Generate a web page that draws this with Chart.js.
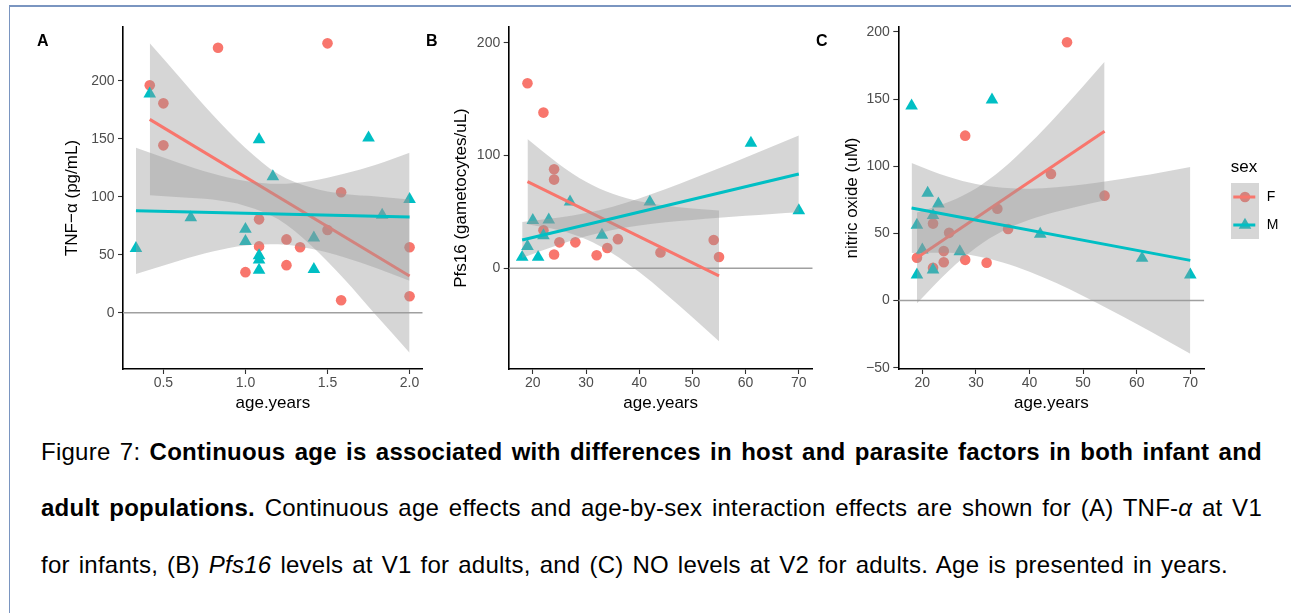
<!DOCTYPE html>
<html><head><meta charset="utf-8">
<script src="https://cdn.jsdelivr.net/npm/chart.js@4.4.1/dist/chart.umd.min.js"></script>
<style>
html,body{margin:0;padding:0;background:#fff;}
body{width:1291px;height:613px;position:relative;overflow:hidden;font-family:'Liberation Sans',Arial,sans-serif;}
.frame{position:absolute;left:9px;top:5px;width:1300px;height:620px;border-top:2px solid #7a95c0;border-left:1.2px solid #7a95c0;box-sizing:border-box;}
canvas{position:absolute;top:0;}
.lab{position:absolute;font:bold 16px 'Liberation Sans',Arial,sans-serif;color:#000;line-height:16px;}
.cap{position:absolute;left:41px;white-space:nowrap;font-size:24px;line-height:1;color:#000;font-family:'Liberation Sans',Arial,sans-serif;}
</style></head><body>
<div class="frame"></div>
<canvas id="cA" width="410" height="420" style="left:20px"></canvas>
<canvas id="cB" width="390" height="420" style="left:430px"></canvas>
<canvas id="cC" width="471" height="420" style="left:820px"></canvas>
<div class="lab" style="left:37px;top:33px">A</div>
<div class="lab" style="left:426px;top:33px">B</div>
<div class="lab" style="left:816px;top:33px">C</div>
<div class="cap" data-w="1221" style="top:439.7px">Figure 7: <b>Continuous age is associated with differences in host and parasite factors in both infant and</b></div>
<div class="cap" data-w="1221" style="top:496.4px"><b>adult populations.</b> Continuous age effects and age-by-sex interaction effects are shown for (A) TNF-<i>α</i> at V1</div>
<div class="cap" data-w="1187" style="top:552.7px">for infants, (B) <i>Pfs16</i> levels at V1 for adults, and (C) NO levels at V2 for adults. Age is presented in years.</div>
<script>
// ---------- Panel A: TNF-alpha vs age (infants) ----------
const A_F_age = [0.417, 0.833, 0.5, 0.5, 1.5, 1.083, 1.083, 1.0, 1.25, 1.25, 1.333, 1.5, 1.583, 1.583, 2.0, 2.0];
const A_F_val = [196, 228.4, 180.5, 144.3, 232.2, 80.5, 57.2, 35.0, 63.2, 41.0, 56.5, 71.3, 103.8, 10.8, 56.4, 14.2];
const A_M_age = [0.333, 0.417, 0.667, 1.0, 1.0, 1.083, 1.083, 1.083, 1.083, 1.167, 1.417, 1.417, 1.75, 1.833, 2.0];
const A_M_val = [55.5, 188.7, 82.0, 72.0, 61.6, 149.2, 49.3, 45.5, 36.8, 117.3, 64.5, 37.4, 150.7, 84.2, 97.7];
const A_F_fitAge = [0.417, 2.0];
const A_F_fit = [166.7, 31.6];
const A_M_fitAge = [0.333, 2.0];
const A_M_fit = [87.9, 82.5];
const A_F_bandAge = [0.417, 0.6, 0.8, 1.0, 1.2, 1.4, 1.6, 1.8, 2.0];
const A_F_bandHi = [232.2, 202.8, 170.7, 142.1, 119.5, 107.9, 102.4, 100.3, 97.6];
const A_F_bandLo = [101.2, 99.6, 97.5, 92.1, 80.5, 57.9, 29.2, -2.9, -34.4];
const A_M_bandAge = [0.333, 0.6, 0.8, 1.0, 1.2, 1.4, 1.6, 1.8, 2.0];
const A_M_bandHi = [142.2, 128.9, 120.0, 113.6, 111.1, 113.6, 119.7, 127.8, 137.9];
const A_M_bandLo = [33.3, 45.1, 52.8, 58.0, 59.1, 55.2, 47.9, 38.4, 27.5];
const A_xTicks = [0.5, 1.0, 1.5, 2.0];
const A_xTickLabels = ['0.5', '1.0', '1.5', '2.0'];
const A_yTicks = [0, 50, 100, 150, 200];
const A_yTickLabels = ['0', '50', '100', '150', '200'];

// ---------- Panel B: Pfs16 vs age (adults) ----------
const B_F_age = [19, 22, 24, 24, 22, 25, 28, 24, 32, 34, 36, 44, 54, 55];
const B_F_val = [164, 138, 87.7, 78.6, 33.7, 23, 23, 12.2, 11.5, 18, 25.8, 14, 25, 10];
const B_M_age = [18, 21, 19, 20, 23, 22, 27, 33, 42, 61, 70];
const B_M_val = [9.8, 9.8, 19.5, 42.5, 43, 29, 58.9, 29.5, 58.8, 111, 51.1];
const B_F_fitAge = [19, 55];
const B_F_fit = [76.8, -6.8];
const B_M_fitAge = [18, 70];
const B_M_fit = [25.1, 83.6];
const B_F_bandAge = [19, 25, 30, 35, 40, 45, 50, 55];
const B_F_bandHi = [114.6, 92.1, 76.8, 66.0, 59.4, 55.5, 53.0, 51.2];
const B_F_bandLo = [39.0, 33.7, 25.8, 13.2, -3.4, -22.7, -43.4, -64.8];
const B_M_bandAge = [18, 25, 30, 35, 40, 45, 50, 55, 60, 65, 70];
const B_M_bandHi = [41.1, 45.0, 48.9, 54.5, 61.9, 70.3, 79.4, 88.7, 98.3, 107.9, 117.6];
const B_M_bandLo = [9.1, 21.0, 28.3, 33.9, 37.9, 40.7, 42.8, 44.7, 46.5, 48.1, 49.6];
const B_xTicks = [20, 30, 40, 50, 60, 70];
const B_xTickLabels = ['20', '30', '40', '50', '60', '70'];
const B_yTicks = [0, 100, 200];
const B_yTickLabels = ['0', '100', '200'];

// ---------- Panel C: nitric oxide vs age (adults) ----------
const C_F_age = [19, 22, 22, 24, 24, 25, 28, 28, 32, 34, 36, 44, 47, 54];
const C_F_val = [31.8, 57.3, 24.4, 36.8, 28.5, 50.4, 122.8, 30.3, 28.1, 68.3, 53.3, 94.3, 192.3, 78.1];
const C_M_age = [18, 33, 21, 23, 22, 19, 20, 27, 19, 22, 42, 61, 70];
const C_M_val = [145, 149.5, 80, 72, 63.5, 56.2, 37.8, 36.5, 19.2, 22.8, 49.5, 31.5, 19.2];
const C_F_fitAge = [19, 54];
const C_F_fit = [31.8, 126.1];
const C_M_fitAge = [18, 70];
const C_M_fit = [68.9, 29.9];
const C_F_bandAge = [19, 25, 30, 35, 40, 45, 50, 54];
const C_F_bandHi = [65.6, 73.6, 83.5, 98.1, 116.7, 137.5, 159.6, 177.8];
const C_F_bandLo = [-2.0, 22.4, 39.3, 51.7, 60.1, 66.1, 71.0, 74.4];
const C_M_bandAge = [18, 25, 30, 35, 40, 45, 50, 55, 60, 65, 70];
const C_M_bandHi = [102.5, 91.9, 86.7, 84.0, 83.3, 84.4, 86.4, 89.2, 92.3, 95.8, 99.4];
const C_M_bandLo = [35.3, 35.5, 33.1, 28.4, 21.5, 13.0, 3.4, -6.9, -17.5, -28.5, -39.6];
const C_xTicks = [20, 30, 40, 50, 60, 70];
const C_xTickLabels = ['20', '30', '40', '50', '60', '70'];
const C_yTicks = [-50, 0, 50, 100, 150, 200];
const C_yTickLabels = ['\u221250', '0', '50', '100', '150', '200'];

const legendTitle = 'sex';
const legendLabels = ['F', 'M'];

// ---------- drawing ----------
const FONT = "'Liberation Sans', Arial, sans-serif";
const COL_F = '#F8766D', COL_M = '#00BFC4';
const BAND = 'rgba(153,153,153,0.4)';
const pts = (xs, ys) => xs.map((x, i) => ({x: x, y: ys[i]}));

function bandPair(age, hi, lo, order) {
  return [
    {type: 'line', data: pts(age, hi), borderWidth: 0, borderColor: 'rgba(0,0,0,0)', pointRadius: 0,
     fill: '+1', backgroundColor: BAND, cubicInterpolationMode: 'monotone', order: order},
    {type: 'line', data: pts(age, lo), borderWidth: 0, borderColor: 'rgba(0,0,0,0)', pointRadius: 0,
     fill: false, cubicInterpolationMode: 'monotone', order: order - 1}
  ];
}

function build(id, p, extraPlugins) {
  const datasets = [
    {type: 'line', data: pts([p.xMin, p.xMax], [0, 0]), borderColor: '#a0a0a0', borderWidth: 1.3, pointRadius: 0, fill: false, order: 100},
    {type: 'scatter', data: pts(p.fAge, p.fVal), pointStyle: 'circle', pointRadius: 5.3,
     pointBackgroundColor: COL_F, backgroundColor: COL_F, pointBorderWidth: 0, borderWidth: 0, pointBorderColor: 'rgba(0,0,0,0)', order: 90},
    {type: 'scatter', data: pts(p.mAge, p.mVal), pointStyle: 'triangle', pointRadius: 7.3,
     pointBackgroundColor: COL_M, backgroundColor: COL_M, pointBorderWidth: 0, borderWidth: 0, pointBorderColor: 'rgba(0,0,0,0)', order: 89},
    ...bandPair(p.fBandAge, p.fBandHi, p.fBandLo, 80),
    {type: 'line', data: pts(p.fFitAge, p.fFit), borderColor: COL_F, borderWidth: 3, pointRadius: 0, fill: false, order: 70},
    ...bandPair(p.mBandAge, p.mBandHi, p.mBandLo, 60),
    {type: 'line', data: pts(p.mFitAge, p.mFit), borderColor: COL_M, borderWidth: 3, pointRadius: 0, fill: false, order: 50}
  ];
  return new Chart(document.getElementById(id), {
    type: 'scatter',
    data: {datasets: datasets},
    options: {
      responsive: false, animation: false, events: [],
      layout: {padding: {left: p.pl, right: p.pr, top: 27, bottom: 0}},
      plugins: {legend: {display: false}, tooltip: {enabled: false}},
      scales: {
        x: {
          type: 'linear', min: p.xMin, max: p.xMax,
          afterFit: s => { s.height = 51; },
          afterBuildTicks: s => { s.ticks = p.xTicks.map(v => ({value: v})); },
          ticks: {color: '#4d4d4d', font: {family: FONT, size: 14}, padding: 1, maxRotation: 0, autoSkip: false,
                  callback: (v, i) => p.xTickLabels[i]},
          grid: {display: true, drawOnChartArea: false, drawTicks: true, tickLength: 5, tickColor: '#333', tickWidth: 1.1},
          border: {display: true, color: '#000', width: 1.6},
          title: {display: true, text: 'age.years', color: '#000', font: {family: FONT, size: 17}, padding: {top: 0, bottom: 6}}
        },
        y: {
          type: 'linear', min: p.yMin, max: p.yMax,
          afterFit: s => { s.width = p.W; },
          afterBuildTicks: s => { s.ticks = p.yTicks.map(v => ({value: v})); },
          ticks: {color: '#4d4d4d', font: {family: FONT, size: 14}, padding: 3.5, autoSkip: false,
                  callback: (v, i) => p.yTickLabels[i]},
          grid: {display: true, drawOnChartArea: false, drawTicks: true, tickLength: 5, tickColor: '#333', tickWidth: 1.1},
          border: {display: true, color: '#000', width: 1.6},
          title: {display: true, text: p.yTitle, color: '#000', font: {family: FONT, size: 17}, padding: {top: 0, bottom: 0}}
        }
      }
    },
    plugins: extraPlugins || []
  });
}

const sexLegend = {
  id: 'sexLegend',
  afterDraw(chart) {
    const ctx = chart.ctx;
    ctx.save();
    ctx.fillStyle = '#000';
    ctx.font = '17px ' + FONT;
    ctx.textAlign = 'left';
    ctx.textBaseline = 'middle';
    ctx.fillText(legendTitle, 410.7, 167);
    const cols = [COL_F, COL_M];
    for (let i = 0; i < 2; i++) {
      const top = 183 + 28 * i, cx = 425, cy = top + 14;
      ctx.fillStyle = cols[i];
      ctx.beginPath();
      if (i === 0) {
        ctx.arc(cx, cy, 5.3, 0, Math.PI * 2);
      } else {
        const r = 7.3;
        ctx.moveTo(cx, cy - r);
        ctx.lineTo(cx + r * Math.sin(2 * Math.PI / 3), cy - r * Math.cos(2 * Math.PI / 3));
        ctx.lineTo(cx + r * Math.sin(4 * Math.PI / 3), cy - r * Math.cos(4 * Math.PI / 3));
        ctx.closePath();
      }
      ctx.fill();
      ctx.fillStyle = BAND;
      ctx.fillRect(411, top, 28, 28);
      ctx.strokeStyle = cols[i];
      ctx.lineWidth = 3;
      ctx.beginPath();
      ctx.moveTo(413.3, cy);
      ctx.lineTo(435.3, cy);
      ctx.stroke();
      ctx.fillStyle = '#000';
      ctx.font = '14px ' + FONT;
      ctx.fillText(legendLabels[i], 446.7, cy);
    }
    ctx.restore();
  }
};

build('cA', {
  xMin: 0.254, xMax: 2.080, yMin: -48.5, yMax: 246.3, pl: 42, pr: 5, W: 61,
  xTicks: A_xTicks, xTickLabels: A_xTickLabels, yTicks: A_yTicks, yTickLabels: A_yTickLabels,
  yTitle: 'TNF\u2212\u03b1 (pg/mL)',
  fAge: A_F_age, fVal: A_F_val, mAge: A_M_age, mVal: A_M_val,
  fFitAge: A_F_fitAge, fFit: A_F_fit, mFitAge: A_M_fitAge, mFit: A_M_fit,
  fBandAge: A_F_bandAge, fBandHi: A_F_bandHi, fBandLo: A_F_bandLo,
  mBandAge: A_M_bandAge, mBandHi: A_M_bandHi, mBandLo: A_M_bandLo
});
build('cB', {
  xMin: 15.47, xMax: 72.61, yMin: -89.3, yMax: 213.9, pl: 21.5, pr: 5, W: 57.2,
  xTicks: B_xTicks, xTickLabels: B_xTickLabels, yTicks: B_yTicks, yTickLabels: B_yTickLabels,
  yTitle: 'Pfs16 (gametocytes/uL)',
  fAge: B_F_age, fVal: B_F_val, mAge: B_M_age, mVal: B_M_val,
  fFitAge: B_F_fitAge, fFit: B_F_fit, mFitAge: B_M_fitAge, mFit: B_M_fit,
  fBandAge: B_F_bandAge, fBandHi: B_F_bandHi, fBandLo: B_F_bandLo,
  mBandAge: B_M_bandAge, mBandHi: B_M_bandHi, mBandLo: B_M_bandLo
});
build('cC', {
  xMin: 15.52, xMax: 72.61, yMin: -51.0, yMax: 203.7, pl: 22.5, pr: 86.7, W: 55.8,
  xTicks: C_xTicks, xTickLabels: C_xTickLabels, yTicks: C_yTicks, yTickLabels: C_yTickLabels,
  yTitle: 'nitric oxide (uM)',
  fAge: C_F_age, fVal: C_F_val, mAge: C_M_age, mVal: C_M_val,
  fFitAge: C_F_fitAge, fFit: C_F_fit, mFitAge: C_M_fitAge, mFit: C_M_fit,
  fBandAge: C_F_bandAge, fBandHi: C_F_bandHi, fBandLo: C_F_bandLo,
  mBandAge: C_M_bandAge, mBandHi: C_M_bandHi, mBandLo: C_M_bandLo
}, [sexLegend]);

// justify caption lines to the reference widths: half the slack in letter spacing, half in word spacing
document.querySelectorAll('.cap').forEach(el => {
  const target = parseFloat(el.dataset.w);
  const natural = el.getBoundingClientRect().width;
  const text = el.textContent;
  const spaces = (text.match(/ /g) || []).length;
  const chars = text.length - 1;
  const slack = target - natural;
  if (slack > 0) {
    const ls = Math.min(0.6, (slack * 0.4) / chars);
    el.style.letterSpacing = ls + 'px';
    const after = el.getBoundingClientRect().width;
    if (spaces > 0) el.style.wordSpacing = ((target - after) / spaces) + 'px';
  } else if (spaces > 0) {
    el.style.wordSpacing = (slack / spaces) + 'px';
  }
});
</script>
</body></html>
